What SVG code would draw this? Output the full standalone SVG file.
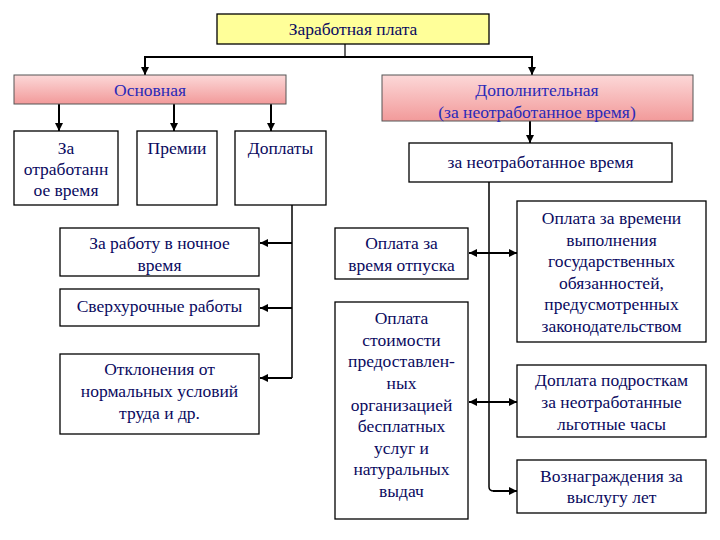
<svg xmlns="http://www.w3.org/2000/svg" width="720" height="540" viewBox="0 0 720 540">
<style>
.box{fill:#fff;stroke:#000;stroke-width:1.3}
.tb{fill:#2a2ab8}
.c{fill:none;stroke:#000;stroke-width:2}
</style>
<defs>
<linearGradient id="pink" x1="0" y1="0" x2="0" y2="1">
<stop offset="0" stop-color="#fcd8d8"/>
<stop offset="1" stop-color="#f29a9a"/>
</linearGradient>
<marker id="ar" viewBox="0 0 10 10" refX="10" refY="5" markerWidth="8" markerHeight="8" markerUnits="userSpaceOnUse" orient="auto">
<path d="M0,0 L10,5 L0,10 z" fill="#000"/>
</marker>
</defs>
<rect width="720" height="540" fill="#fff"/>
<g id="connectors">
<path d="M345,44 V57" fill="none" stroke="#000" stroke-width="1.2"/>
<path class="c" d="M345,57 H145 V75" marker-end="url(#ar)"/>
<path class="c" d="M345,57 H532 V75" marker-end="url(#ar)"/>
<path class="c" d="M59,104 V131" marker-end="url(#ar)"/>
<path class="c" d="M174,104 V131" marker-end="url(#ar)"/>
<path class="c" d="M271,104 V131" marker-end="url(#ar)"/>
<path class="c" d="M530,121 V143" marker-end="url(#ar)"/>
<path d="M292,205 V378" fill="none" stroke="#000" stroke-width="1.5"/>
<path class="c" d="M292,243 H260" marker-end="url(#ar)"/>
<path class="c" d="M292,308 H260" marker-end="url(#ar)"/>
<path class="c" d="M292,378 H260" marker-end="url(#ar)"/>
<path d="M489,182 V487 Q489,491 494,491" fill="none" stroke="#000" stroke-width="1.5"/>
<path class="c" d="M493,491 H517" marker-end="url(#ar)"/>
<path class="c" d="M489,253 H469" marker-end="url(#ar)"/>
<path class="c" d="M489,253 H517" marker-end="url(#ar)"/>
<path class="c" d="M489,402 H469" marker-end="url(#ar)"/>
<path class="c" d="M489,402 H517" marker-end="url(#ar)"/>
</g>
<g font-family="Liberation Serif, Times New Roman, DejaVu Serif, serif" font-size="17.5" fill="#0a0a60" text-anchor="middle">
<g id="n-zarplata">
<rect x="217" y="14" width="272" height="30" fill="#ffff99" stroke="#000" stroke-width="1.3"/>
<text x="353" y="35">Заработная плата</text>
</g>
<g id="n-osnovnaya">
<rect x="14" y="75" width="272" height="29" fill="url(#pink)" stroke="#555" stroke-width="1"/>
<text class="tb" x="150" y="96">Основная</text>
</g>
<g id="n-dopolnitelnaya">
<rect x="382" y="75" width="311" height="46" fill="url(#pink)" stroke="#555" stroke-width="1"/>
<text class="tb" x="537" y="96">Дополнительная</text>
<text class="tb" x="537" y="118">(за неотработанное время)</text>
</g>
<g id="n-otrab">
<rect class="box" x="14" y="131" width="104" height="74"/>
<text x="66" y="154">За</text>
<text x="66" y="175">отработанн</text>
<text x="66" y="196">ое время</text>
</g>
<g id="n-premii">
<rect class="box" x="137" y="131" width="80" height="74"/>
<text x="177" y="154">Премии</text>
</g>
<g id="n-doplaty">
<rect class="box" x="235" y="131" width="91" height="74"/>
<text x="280.5" y="154">Доплаты</text>
</g>
<g id="n-noch">
<rect class="box" x="60" y="228" width="199" height="48"/>
<text x="159.5" y="249">За работу в ночное</text>
<text x="159.5" y="271">время</text>
</g>
<g id="n-sverh">
<rect class="box" x="60" y="289" width="199" height="37"/>
<text x="159.5" y="312">Сверхурочные работы</text>
</g>
<g id="n-otkl">
<rect class="box" x="60" y="354" width="199" height="80"/>
<text x="159.5" y="375">Отклонения от</text>
<text x="159.5" y="397">нормальных условий</text>
<text x="159.5" y="419">труда и др.</text>
</g>
<g id="n-zaneotrab">
<rect class="box" x="409" y="143" width="263" height="39"/>
<text x="540.5" y="168">за неотработанное время</text>
</g>
<g id="n-otpusk">
<rect class="box" x="335" y="228" width="133" height="51"/>
<text x="401.5" y="249">Оплата за</text>
<text x="401.5" y="271">время отпуска</text>
</g>
<g id="n-stoimost">
<rect class="box" x="335" y="302" width="133" height="217"/>
<text x="401.5" y="324">Оплата</text>
<text x="401.5" y="346">стоимости</text>
<text x="401.5" y="367">предоставлен-</text>
<text x="401.5" y="389">ных</text>
<text x="401.5" y="411">организацией</text>
<text x="401.5" y="432">бесплатных</text>
<text x="401.5" y="454">услуг и</text>
<text x="401.5" y="475">натуральных</text>
<text x="401.5" y="497">выдач</text>
</g>
<g id="n-gos">
<rect class="box" x="517" y="201" width="189" height="141"/>
<text x="611.5" y="224">Оплата за времени</text>
<text x="611.5" y="246">выполнения</text>
<text x="611.5" y="267">государственных</text>
<text x="611.5" y="289">обязанностей,</text>
<text x="611.5" y="310">предусмотренных</text>
<text x="611.5" y="332">законодательством</text>
</g>
<g id="n-podrostki">
<rect class="box" x="517" y="365" width="189" height="72"/>
<text x="611.5" y="386">Доплата подросткам</text>
<text x="611.5" y="408">за неотработанные</text>
<text x="611.5" y="430">льготные часы</text>
</g>
<g id="n-vysluga">
<rect class="box" x="517" y="460" width="189" height="53"/>
<text x="611.5" y="482">Вознаграждения за</text>
<text x="611.5" y="503">выслугу лет</text>
</g>
</g>
</svg>
